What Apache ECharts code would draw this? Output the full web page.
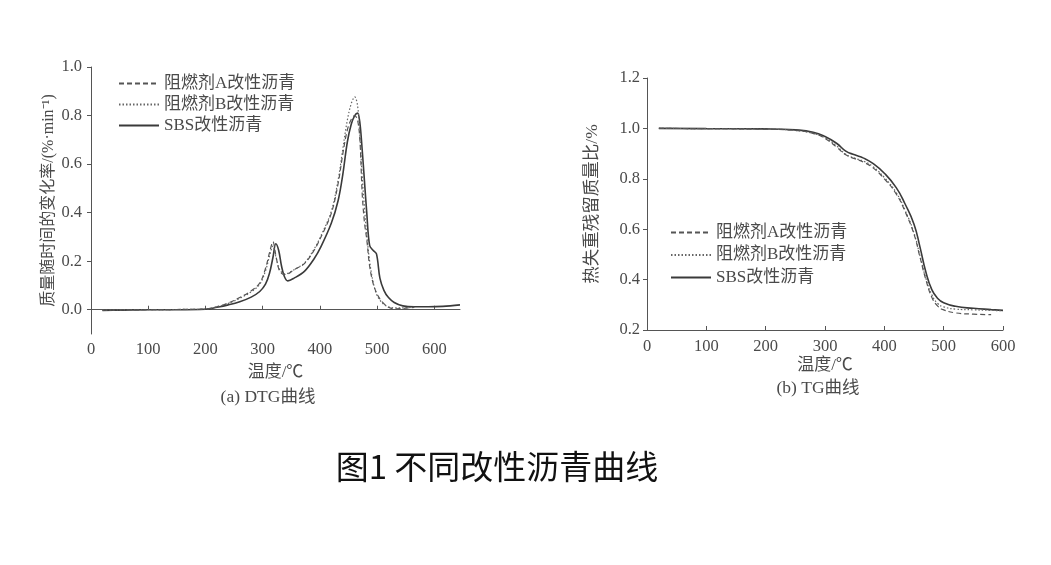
<!DOCTYPE html>
<html>
<head>
<meta charset="utf-8">
<title>图1 不同改性沥青曲线</title>
<script src="https://cdn.jsdelivr.net/npm/echarts@6/dist/echarts.min.js"></script>
<style>
    html, body {margin: 0; padding: 0; background: #fff;}
    #chart {width: 1051px; height: 565px;}
</style>
</head>
<body>
<div id="chart"></div>
<script>
// 图例名称
var seriesNames = ['阻燃剂A改性沥青', '阻燃剂B改性沥青', 'SBS改性沥青'];

// (a) DTG 曲线，温度/℃
var dtgTemp = [20, 50, 100, 150, 200, 220, 240, 260, 280, 295,
    305, 312, 318, 323, 328, 333, 338, 344, 355, 373,
    390, 402, 420, 432, 440, 448, 455, 461, 466, 470,
    474, 478, 482, 487, 493, 499, 505, 512, 520, 530,
    545, 565, 590, 615, 645];
var dtgA = [-0.002, -0.001, 0, 0.001, 0.003, 0.012, 0.028, 0.05, 0.078, 0.11,
    0.17, 0.235, 0.28, 0.225, 0.17, 0.15, 0.145, 0.147, 0.165, 0.19,
    0.245, 0.3, 0.397, 0.52, 0.64, 0.74, 0.785, 0.8, 0.78, 0.7,
    0.48, 0.36, 0.29, 0.18, 0.11, 0.07, 0.045, 0.025, 0.01, 0.004,
    0.005, 0.01, null, null, null];
var dtgB = [-0.002, -0.001, 0, 0.001, 0.003, 0.012, 0.026, 0.047, 0.074, 0.105,
    0.16, 0.22, 0.262, 0.22, 0.175, 0.155, 0.148, 0.15, 0.165, 0.192,
    0.25, 0.305, 0.405, 0.535, 0.66, 0.78, 0.85, 0.877, 0.84, 0.72,
    0.55, 0.42, 0.31, 0.2, 0.115, 0.065, 0.04, 0.022, 0.012, 0.008,
    0.008, 0.01, null, null, null];
var dtgSBS = [-0.003, -0.002, 0, 0, 0.002, 0.01, 0.02, 0.033, 0.052, 0.075,
    0.105, 0.15, 0.215, 0.272, 0.245, 0.18, 0.137, 0.119, 0.13, 0.158,
    0.21, 0.26, 0.356, 0.45, 0.555, 0.69, 0.765, 0.8, 0.81, 0.77,
    0.66, 0.53, 0.4, 0.265, 0.245, 0.23, 0.13, 0.08, 0.05, 0.03,
    0.016, 0.012, 0.012, 0.014, 0.02];

// (b) TG 曲线
var tgTemp = [20, 100, 200, 250, 280, 300, 320, 335, 350, 365,
    380, 400, 420, 435, 450, 460, 470, 480, 490, 500,
    520, 550, 580, 600];
var tgA = [1.0, 0.999, 0.997, 0.992, 0.98, 0.96, 0.925, 0.895, 0.88, 0.866,
    0.845, 0.8, 0.74, 0.67, 0.58, 0.49, 0.4, 0.33, 0.295, 0.28,
    0.268, 0.263, 0.261, null];
var tgB = [1.0, 0.999, 0.997, 0.992, 0.98, 0.962, 0.93, 0.897, 0.882, 0.87,
    0.85, 0.805, 0.745, 0.675, 0.585, 0.495, 0.405, 0.34, 0.305, 0.292,
    0.283, 0.28, 0.278, 0.276];
var tgSBS = [1.0, 0.999, 0.998, 0.994, 0.985, 0.968, 0.94, 0.91, 0.895, 0.882,
    0.862, 0.822, 0.765, 0.7, 0.62, 0.53, 0.43, 0.36, 0.325, 0.308,
    0.294, 0.286, 0.281, 0.278];

// 刻度
var xTicks = [0, 100, 200, 300, 400, 500, 600];
var dtgYTicks = [0, 0.2, 0.4, 0.6, 0.8, 1.0];

var serifFont = "'Liberation Serif', 'Noto Sans CJK SC', serif";
var txtColor = '#4a4a4a';
var axisColor = '#555';

//组合 [x, y]
function pairs(xs, ys) {
    var out = [];
    for (var i = 0; i < xs.length; i++) {
        if (ys[i] !== null) out.push([xs[i], ys[i]]);
    }
    return out;
}

function makeX(grid, max, nameGap, margin, custom) {
    var ax = {
        type: 'value', gridIndex: grid, min: 0, max: max,
        name: '温度/℃', nameLocation: 'middle', nameGap: nameGap,
        nameTextStyle: {color: txtColor, fontFamily: serifFont, fontSize: 17},
        axisLine: {show: true, lineStyle: {color: axisColor, width: 1}},
        axisTick: {show: true, inside: true, length: 4, lineStyle: {color: axisColor}},
        axisLabel: {color: txtColor, fontFamily: serifFont, fontSize: 16.5, margin: margin},
        splitLine: {show: false}
    };
    if (custom) {
        ax.axisTick.customValues = xTicks;
        ax.axisLabel.customValues = xTicks;
    } else {
        ax.interval = 100;
    }
    return ax;
}

function makeY(grid, min, max, name, nameSize, nameGap, margin, custom) {
    var ax = {
        type: 'value', gridIndex: grid, min: min, max: max,
        name: name, nameLocation: 'middle', nameGap: nameGap,
        nameTextStyle: {color: txtColor, fontFamily: serifFont, fontSize: nameSize},
        axisLine: {show: true, lineStyle: {color: axisColor, width: 1}},
        axisTick: {show: true, inside: false, length: 4, lineStyle: {color: axisColor}},
        axisLabel: {
            color: txtColor, fontFamily: serifFont, fontSize: 16.5, margin: margin,
            formatter: function (v) { return (Math.round(v * 10) / 10).toFixed(1); }
        },
        splitLine: {show: false}
    };
    if (custom) {
        ax.axisTick.customValues = custom;
        ax.axisLabel.customValues = custom;
    } else {
        ax.interval = 0.2;
    }
    return ax;
}

var styles = [
    {type: [5, 3], width: 1.2, color: '#555'},
    {type: [1.5, 2], width: 1.2, color: '#666'},
    {type: 'solid', width: 1.6, color: '#3a3a3a'}
];

function makeSeries(idx, data, axis, smooth) {
    return {
        name: seriesNames[idx], type: 'line',
        xAxisIndex: axis, yAxisIndex: axis,
        data: data, symbol: 'none', showSymbol: false,
        smooth: smooth,
        lineStyle: styles[idx], itemStyle: {color: styles[idx].color},
        z: 3 - idx, animation: false
    };
}

function makeLegend(left, top, gap) {
    return {
        data: seriesNames, orient: 'vertical', left: left, top: top,
        padding: 0, itemWidth: 40, itemHeight: 12, itemGap: gap,
        selectedMode: false,
        itemStyle: {opacity: 0},
        textStyle: {color: txtColor, fontFamily: serifFont, fontSize: 17}
    };
}

function caption(text, x, y, size, family, color) {
    return {
        type: 'text', x: x, y: y,
        style: {text: text, fill: color, font: size + 'px ' + family, textAlign: 'center', textVerticalAlign: 'middle'}
    };
}

var chart = echarts.init(document.getElementById('chart'), null, {renderer: 'canvas'});
var option = {
    backgroundColor: '#fff',
    animation: false,
    grid: [
        {left: 91, top: 67, width: 369, height: 267},
        {left: 647, top: 78, width: 356, height: 252}
    ],
    xAxis: [
        makeX(0, 645, 30, 7, true),
        makeX(1, 600, 27, 8, false)
    ],
    yAxis: [
        makeY(0, -0.1, 1.0, '质量随时间的变化率/(%·min⁻¹)', 16, 34, 9, dtgYTicks),
        makeY(1, 0.2, 1.2, '热失重残留质量比/%', 17.5, 46, 7, null)
    ],
    legend: [
        makeLegend(118, 75, 4),
        makeLegend(670, 224, 5.5)
    ],
    series: [
        makeSeries(0, pairs(dtgTemp, dtgA), 0, 0.35),
        makeSeries(1, pairs(dtgTemp, dtgB), 0, 0.35),
        makeSeries(2, pairs(dtgTemp, dtgSBS), 0, 0.35),
        makeSeries(0, pairs(tgTemp, tgA), 1, 0.5),
        makeSeries(1, pairs(tgTemp, tgB), 1, 0.5),
        makeSeries(2, pairs(tgTemp, tgSBS), 1, 0.5)
    ],
    graphic: [
        caption('(a) DTG曲线', 268, 397, 17.5, serifFont, txtColor),
        caption('(b) TG曲线', 818, 388, 17.5, serifFont, txtColor),
        caption('图1 不同改性沥青曲线', 497, 466, 33, "'Noto Sans CJK SC', sans-serif", '#111')
    ]
};
chart.setOption(option);
</script>
</body>
</html>
